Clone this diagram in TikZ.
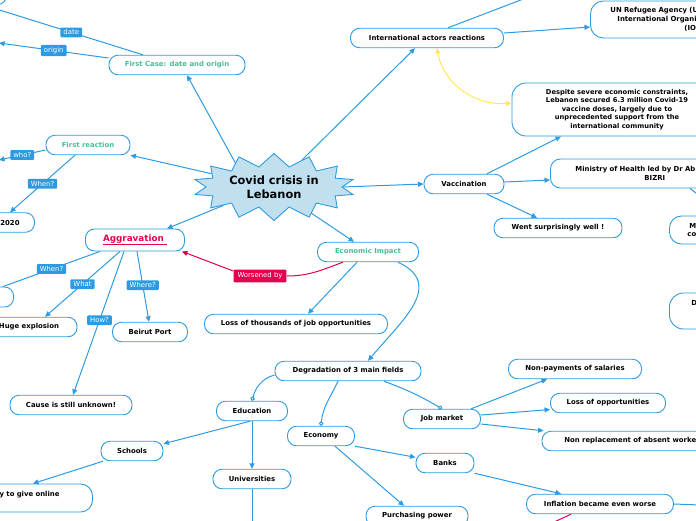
\documentclass[tikz,border=0pt]{standalone}
\usepackage{fontspec}
\setmainfont{DejaVu Sans}
\usetikzlibrary{shapes.symbols}
\usetikzlibrary{arrows.meta}

\definecolor{mapblue}{RGB}{45,155,225}
\definecolor{mapteal}{RGB}{70,190,150}
\definecolor{mapred}{RGB}{228,0,80}
\definecolor{starfill}{RGB}{192,224,240}
\definecolor{mapyellow}{RGB}{255,232,90}

\begin{document}
\begin{tikzpicture}[x=1pt, y=-1pt,
		topic/.style={draw=mapblue, line width=0.9pt, fill=white, rounded corners=9pt, align=center, inner sep=2pt, minimum height=19.5pt, font=\bfseries\fontsize{6.9}{8.7}\selectfont},
		tag/.style={fill=mapblue, text=white, rounded corners=1pt, inner xsep=3pt, inner ysep=2.2pt, font=\fontsize{6.9}{7.5}\selectfont},
		link/.style={draw=mapblue, line width=1pt},
		arr/.style={link, -{Triangle[length=5.5pt,width=5pt]}},
		ring/.style={link, -{Circle[open,length=4.5pt,width=4.5pt]}}]
		\useasboundingbox (0,0) rectangle (696,520);
		% centre
		\node[starburst, random starburst=0, starburst points=14, starburst point height=13pt, draw=mapblue, line width=0.9pt, fill=starfill, minimum width=148pt, minimum height=62pt, align=center, font=\bfseries\fontsize{11.4}{13.5}\selectfont] (star) at (274,187) {Covid crisis in\\Lebanon};
		% left branches
		\node[topic, minimum width=60pt, minimum height=20pt, anchor=south east] (tlbox) at (7,5) {};
		\node[topic, minimum width=136pt, text=mapteal] (fcase) at (177,65) {First Case: date and origin};
		\node[topic, minimum width=84pt, text=mapteal] (firstreac) at (88,145) {First reaction};
		\node[topic, anchor=east, text width=50pt, align=right, inner xsep=15pt] (yr) at (35,222.5) {2020};
		\node[topic, minimum width=99pt, minimum height=22pt, text=mapred, font=\bfseries\fontsize{8.8}{10}\selectfont] (agg) at (135,240) {\underline{Aggravation\ }};
		\node[topic, anchor=east, minimum width=60pt, minimum height=20pt] (agwhen) at (14,297) {};
		\node[topic, minimum width=96pt] (blast) at (29,327) {Huge explosion};
		\node[topic, minimum width=75pt] (beirut) at (150,332) {Beirut Port};
		\node[topic, minimum width=122pt] (cause) at (71,405) {Cause is still unknown!};
		\coordinate (origend) at (-1,43);
		\coordinate (whoend) at (-1,160);
		% economy
		\node[topic, minimum width=101pt, text=mapteal] (econ) at (368,252) {Economic Impact};
		\node[fill=mapred, text=white, rounded corners=1pt, inner xsep=4pt, inner ysep=3pt, font=\fontsize{6.9}{7.5}\selectfont] (worse) at (260,276) {Worsened by};
		\node[topic, minimum width=183pt] (lossjobs) at (296,324) {Loss of thousands of job opportunities};
		\node[topic, minimum width=146pt] (degr) at (348,371) {Degradation of 3 main fields};
		\node[topic, minimum width=71pt] (educ) at (252,411) {Education};
		\node[topic, minimum width=67pt] (economy) at (321,436) {Economy};
		\node[topic, minimum width=77pt] (jobm) at (442,419) {Job market};
		\node[topic, minimum width=62pt] (schools) at (132,451) {Schools};
		\node[topic, anchor=east, minimum height=28pt, text width=120pt, align=right, inner xsep=33pt, text depth=8pt, rounded corners=12pt] (online) at (93,498) {y to give online};
		\node[topic, minimum width=78pt] (univ) at (252,479) {Universities};
		\node[topic, minimum width=58pt] (banks) at (445,463) {Banks};
		\node[topic, minimum width=102pt] (purch) at (417,516) {Purchasing power};
		\node[topic, minimum width=147pt] (infl) at (600,504) {Inflation became even worse};
		\node[topic, minimum width=133pt] (nonpay) at (575,369) {Non-payments of salaries};
		\node[topic, minimum width=115pt] (lossopp) at (608,403) {Loss of opportunities};
		\node[topic, minimum width=184pt] (nonrep) at (634,441) {Non replacement of absent workers};
		\coordinate (univend) at (252,523);
		\coordinate (inflend) at (700,505);
		\coordinate (inflred) at (552,523);
		% international and vaccination
		\node[topic, minimum width=153pt] (intl) at (427,38) {International actors reactions};
		\node[topic, anchor=west, minimum height=37pt, text width=160pt, align=left, inner xsep=20pt, rounded corners=13pt] (unhcr) at (590,19.5) {UN Refugee Agency (U\\\hspace*{7pt}International Organi\\\hspace*{74pt}(IO};
		\node[topic, minimum width=210pt, minimum height=53pt, rounded corners=14pt, font=\bfseries\fontsize{6.7}{8.6}\selectfont] (despite) at (617,109.5) {Despite severe economic constraints,\\Lebanon secured 6.3 million Covid-19\\vaccine doses, largely due to\\unprecedented support from the\\international community};
		\node[topic, minimum width=80pt] (vacc) at (464,184) {Vaccination};
		\node[topic, anchor=west, minimum height=29pt, text width=170pt, align=left, inner xsep=25pt, rounded corners=10pt] (moh) at (550,173.5) {Ministry of Health led by Dr Ab\\\hspace*{69pt}BIZRI};
		\node[topic, minimum width=128pt] (went) at (558,228) {Went surprisingly well !};
		\node[topic, anchor=west, minimum width=90pt, minimum height=28pt, text width=60pt, align=left, inner xsep=18pt, rounded corners=12pt] (mm) at (669,230) {\hspace*{2pt}M\\co};
		\node[topic, anchor=west, minimum width=90pt, minimum height=36pt, text width=60pt, align=left, inner xsep=22pt, text depth=17pt, rounded corners=14pt] (dd) at (669,311) {D};
		\coordinate (intlend) at (526,-2);
		\coordinate (mohend) at (700,196);

		% connectors
		\draw[arr] (star.148) -- ([xshift=10pt]fcase.south);
		\draw[arr] (star.168) -- (firstreac.south east);
		\draw[arr] (star.200) -- ([xshift=32pt]agg.north);
		\draw[arr] (star.-35) -- ([xshift=-14pt]econ.north);
		\draw[arr] (star.east) -- (vacc.west);
		\draw[arr] (star.44) -- ([xshift=-12pt]intl.south);

		\draw[link] ([xshift=-34pt]fcase.north) -- ([xshift=7pt]tlbox.south) node[tag, pos=0.45] {date};
		\draw[arr] ([yshift=7pt]fcase.west) -- (origend) node[tag, midway] {origin};
		\draw[arr] ([yshift=-5pt]firstreac.west) -- (whoend) node[tag, midway] {who?};
		\draw[arr] ([xshift=-13pt]firstreac.south) -- ([xshift=-25pt]yr.north east) node[tag, midway] {When?};
		\draw[link] ([xshift=-35pt]agg.south) -- ([xshift=-11pt]agwhen.north east) node[tag, midway] {When?};
		\draw[arr] ([xshift=-15pt]agg.south) -- ([xshift=16pt]blast.north) node[tag, midway] {What};
		\draw[arr] ([xshift=-11pt]agg.south) -- ([xshift=2pt]cause.north) node[tag, pos=0.48] {How?};
		\draw[arr] ([xshift=2pt]agg.south) -- ([xshift=-1pt]beirut.north) node[tag, pos=0.48] {Where?};

		\draw[mapred, line width=1pt] ([xshift=-25pt]econ.south) to[out=200, in=0] (worse.east);
		\draw[mapred, line width=1pt, -{Triangle[length=5.5pt,width=5pt]}] ([yshift=5pt]worse.west) -- ([xshift=-3pt]agg.south east);
		\draw[arr] ([xshift=-11pt]econ.south) -- ([xshift=12pt]lossjobs.north);
		\draw[arr] ([xshift=30pt]econ.south) to[out=-25, in=50, looseness=1.3] ([xshift=20pt]degr.north);

		\draw[ring] ([yshift=-4pt]degr.west) to[out=195, in=75] (educ.north);
		\draw[ring] ([xshift=-10pt]degr.south) to[out=-115, in=85] (economy.north);
		\draw[ring] ([xshift=36pt]degr.south) to[bend left=5] (jobm.north);
		\draw[arr] ([xshift=-2pt]educ.south) -- ([yshift=-3pt]schools.north east);
		\draw[arr] ([xshift=-29pt]schools.south) -- ([xshift=-60pt]online.north east);
		\draw[arr] (educ.south) -- (univ.north);
		\draw[link] (univ.south) -- (univend);
		\draw[arr] (economy.south east) -- ([yshift=-4.5pt]banks.north west);
		\draw[arr] ([xshift=14pt]economy.south) -- ([xshift=-13pt]purch.north);
		\draw[arr] (banks.south east) -- ([xshift=-39pt]infl.north);
		\draw[link] (infl.east) -- (inflend);
		\draw[mapred, line width=1pt] ([xshift=-29pt]infl.south) -- (inflred);
		\draw[arr] ([xshift=29pt]jobm.north) -- ([xshift=-28pt]nonpay.south);
		\draw[arr] ([yshift=4pt]jobm.east) -- ([yshift=-6.5pt]lossopp.west);
		\draw[arr] ([yshift=-5pt]jobm.east) -- ([xshift=2pt]nonrep.north west);

		\draw[link] ([xshift=21pt]intl.north) -- (intlend);
		\draw[arr] ([yshift=5pt]intl.east) -- ([yshift=-7.5pt]unhcr.west);
		\draw[draw=mapyellow, line width=1pt, {Triangle[length=5.5pt,width=5pt]}-{Triangle[length=5.5pt,width=5pt]}] ([xshift=10pt]intl.south) to[out=-80, in=185] ([yshift=6.5pt]despite.west);
		\draw[arr] ([xshift=23pt]vacc.north) -- ([xshift=-56pt]despite.south);
		\draw[arr] ([yshift=2pt]vacc.east) -- ([yshift=-6.5pt]moh.west);
		\draw[arr] ([xshift=23pt]vacc.south) -- ([xshift=-21pt]went.north);
		\draw[link] ([xshift=140pt]moh.south west) -- (mohend);
\end{tikzpicture}
\end{document}
